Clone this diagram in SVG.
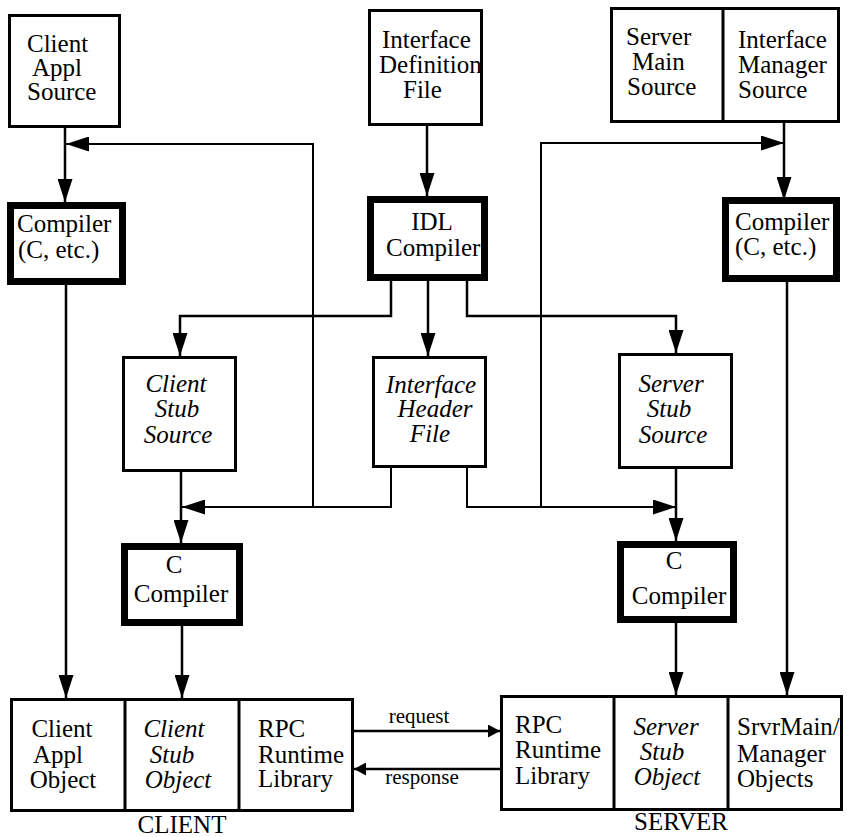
<svg xmlns="http://www.w3.org/2000/svg" width="847" height="837" viewBox="0 0 847 837">
  <style>
    .box { fill: #fff; stroke: #000; stroke-width: 3; }
    .tool { fill: #fff; stroke: #000; stroke-width: 7; }
    .div { stroke: #000; stroke-width: 3; }
    text { font-family: 'Liberation Serif', 'DejaVu Serif', serif; font-size: 25px; fill: #000; }
    .it { font-style: italic; }
    .c { text-anchor: middle; }
    .lbl { font-size: 21px; }
    .flow { fill: none; stroke: #000; stroke-width: 2.5; }
    .fb { fill: none; stroke: #000; stroke-width: 2; }
  </style>
  <defs>
    <marker id="big" markerUnits="userSpaceOnUse" markerWidth="23" markerHeight="15" refX="23" refY="7.5" orient="auto">
      <path d="M0,0 L23,7.5 L0,15 z" fill="#000"/>
    </marker>
    <marker id="small" markerUnits="userSpaceOnUse" markerWidth="12" markerHeight="13" refX="12" refY="6.5" orient="auto">
      <path d="M0,0 L12,6.5 L0,13 z" fill="#000"/>
    </marker>
  </defs>

  <!-- connectors: build flow, IDL outputs, header feedback, RPC traffic -->
  <g id="connectors">
    <path class="flow" d="M65,128 V202" marker-end="url(#big)"/>
    <path class="flow" d="M427,126 V196" marker-end="url(#big)"/>
    <path class="flow" d="M784,123 V200" marker-end="url(#big)"/>
    <path class="flow" d="M391,281 V316 H180 V356" marker-end="url(#big)"/>
    <path class="flow" d="M428,281 V356" marker-end="url(#big)"/>
    <path class="flow" d="M467,281 V316 H676 V353" marker-end="url(#big)"/>
    <path class="fb" d="M391,468 V507 H182" marker-end="url(#big)"/>
    <path class="fb" d="M313,507 V144 H66" marker-end="url(#big)"/>
    <path class="fb" d="M467,468 V507 H676" marker-end="url(#big)"/>
    <path class="fb" d="M541,507 V143 H784" marker-end="url(#big)"/>
    <path class="flow" d="M181,472 V543" marker-end="url(#big)"/>
    <path class="flow" d="M676,469 V541" marker-end="url(#big)"/>
    <path class="flow" d="M66,285 V698" marker-end="url(#big)"/>
    <path class="flow" d="M182,626 V698" marker-end="url(#big)"/>
    <path class="flow" d="M676,623 V695" marker-end="url(#big)"/>
    <path class="flow" d="M787,282 V695" marker-end="url(#big)"/>
    <path class="flow" d="M354,731 H500" marker-end="url(#small)"/>
    <path class="flow" d="M500,769 H354" marker-end="url(#small)"/>
    <text class="lbl c" x="419" y="723">request</text>
    <text class="lbl c" x="422" y="784">response</text>
  </g>

  <g id="client-appl-source">
    <rect class="box" x="9.5" y="15.5" width="110" height="111"/>
    <text><tspan x="27" y="52">Client</tspan><tspan x="32" y="76">Appl</tspan><tspan x="27" y="100">Source</tspan></text>
  </g>

  <g id="interface-definition-file">
    <rect class="box" x="369.5" y="10.5" width="112" height="114"/>
    <text><tspan x="382" y="48">Interface</tspan><tspan x="379" y="73">Definition</tspan><tspan x="403" y="98">File</tspan></text>
  </g>

  <g id="server-sources">
    <rect class="box" x="611.5" y="8.5" width="227" height="113"/>
    <line class="div" x1="723" y1="8.5" x2="723" y2="121.5"/>
    <text><tspan x="626" y="45">Server</tspan><tspan x="632" y="70">Main</tspan><tspan x="627" y="95">Source</tspan></text>
    <text><tspan x="738" y="48">Interface</tspan><tspan x="738" y="73">Manager</tspan><tspan x="738" y="98">Source</tspan></text>
  </g>

  <g id="client-compiler">
    <rect class="tool" x="10.5" y="205.5" width="112" height="76"/>
    <text><tspan x="17" y="232">Compiler</tspan><tspan x="18" y="258">(C, etc.)</tspan></text>
  </g>

  <g id="idl-compiler">
    <rect class="tool" x="370.5" y="199.5" width="114" height="78"/>
    <text><tspan class="c" x="432" y="230">IDL</tspan><tspan x="386" y="256">Compiler</tspan></text>
  </g>

  <g id="server-compiler">
    <rect class="tool" x="725.5" y="200.5" width="111" height="78"/>
    <text><tspan x="735" y="230">Compiler</tspan><tspan x="735" y="255">(C, etc.)</tspan></text>
  </g>

  <g id="client-stub-source">
    <rect class="box" x="123.5" y="357.5" width="112" height="113"/>
    <text class="it c"><tspan x="176" y="392">Client</tspan><tspan x="177" y="417">Stub</tspan><tspan x="178" y="443">Source</tspan></text>
  </g>

  <g id="interface-header-file">
    <rect class="box" x="373.5" y="357.5" width="112" height="109"/>
    <text class="it c"><tspan x="431" y="393">Interface</tspan><tspan x="435" y="417">Header</tspan><tspan x="430" y="442">File</tspan></text>
  </g>

  <g id="server-stub-source">
    <rect class="box" x="619.5" y="354.5" width="112" height="113"/>
    <text class="it c"><tspan x="671" y="392">Server</tspan><tspan x="669" y="417">Stub</tspan><tspan x="673" y="443">Source</tspan></text>
  </g>

  <g id="client-c-compiler">
    <rect class="tool" x="124.5" y="546.5" width="115" height="76"/>
    <text class="c"><tspan x="174" y="573">C</tspan><tspan x="181" y="602">Compiler</tspan></text>
  </g>

  <g id="server-c-compiler">
    <rect class="tool" x="620.5" y="544.5" width="113" height="75"/>
    <text class="c"><tspan x="674" y="569">C</tspan><tspan x="679" y="604">Compiler</tspan></text>
  </g>

  <g id="client-objects">
    <rect class="box" x="11.5" y="699.5" width="341" height="111"/>
    <line class="div" x1="125" y1="699.5" x2="125" y2="810.5"/>
    <line class="div" x1="239" y1="699.5" x2="239" y2="810.5"/>
    <text class="c"><tspan x="62" y="737">Client</tspan><tspan x="58" y="763">Appl</tspan><tspan x="63" y="788">Object</tspan></text>
    <text class="it c"><tspan x="174" y="737">Client</tspan><tspan x="172" y="763">Stub</tspan><tspan x="178" y="788">Object</tspan></text>
    <text><tspan x="258" y="737">RPC</tspan><tspan x="258" y="763">Runtime</tspan><tspan x="258" y="787">Library</tspan></text>
    <text class="c" x="182" y="833">CLIENT</text>
  </g>

  <g id="server-objects">
    <rect class="box" x="501.5" y="696.5" width="340" height="113"/>
    <line class="div" x1="614" y1="696.5" x2="614" y2="809.5"/>
    <line class="div" x1="728" y1="696.5" x2="728" y2="809.5"/>
    <text><tspan x="515" y="733">RPC</tspan><tspan x="515" y="758">Runtime</tspan><tspan x="515" y="784">Library</tspan></text>
    <text class="it c"><tspan x="666" y="735">Server</tspan><tspan x="662" y="760">Stub</tspan><tspan x="667" y="785">Object</tspan></text>
    <text><tspan x="737" y="735">SrvrMain/</tspan><tspan x="737" y="762">Manager</tspan><tspan x="737" y="787">Objects</tspan></text>
    <text class="c" x="681" y="830">SERVER</text>
  </g>
</svg>
